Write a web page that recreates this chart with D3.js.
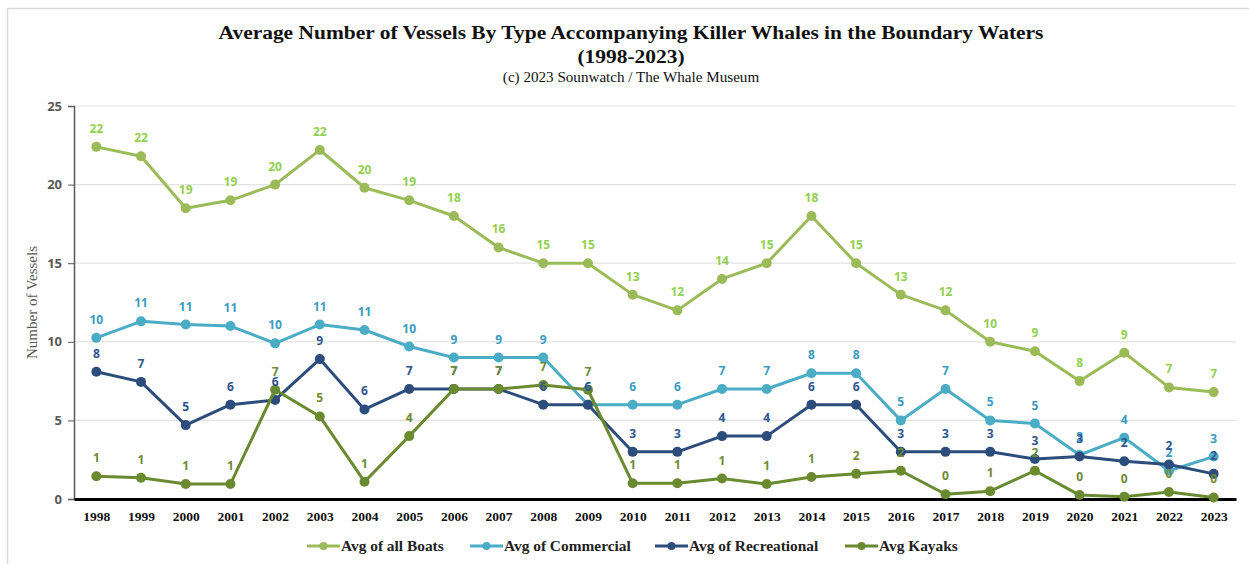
<!DOCTYPE html>
<html>
<head>
<meta charset="utf-8">
<script src="https://cdn.jsdelivr.net/npm/d3@7"></script>
<style>
  body { margin: 0; background: #fff; }
</style>
</head>
<body>
<div id="chart"></div>
<script>
const years = ['1998', '1999', '2000', '2001', '2002', '2003', '2004', '2005', '2006', '2007', '2008', '2009', '2010',
  '2011', '2012', '2013', '2014', '2015', '2016', '2017', '2018', '2019', '2020', '2021', '2022', '2023'];

const allBoats = [22.4, 21.8, 18.5, 19.0, 20.0, 22.2, 19.8, 19.0, 18.0, 16.0, 15.0, 15.0, 13.0,
  12.0, 14.0, 15.0, 18.0, 15.0, 13.0, 12.0, 10.0, 9.4, 7.5, 9.3, 7.1, 6.8];
const commercial = [10.25, 11.3, 11.1, 11.0, 9.9, 11.1, 10.75, 9.7, 9.0, 9.0, 9.0, 6.0, 6.0,
  6.0, 7.0, 7.0, 8.0, 8.0, 5.0, 7.0, 5.0, 4.8, 2.8, 3.9, 1.8, 2.7];
const recreational = [8.1, 7.45, 4.7, 6.0, 6.3, 8.9, 5.7, 7.0, 7.0, 7.0, 6.0, 6.0, 3.0,
  3.0, 4.0, 4.0, 6.0, 6.0, 3.0, 3.0, 3.0, 2.55, 2.7, 2.4, 2.2, 1.6];
const kayaks = [1.45, 1.35, 0.95, 0.95, 6.95, 5.25, 1.1, 4.0, 7.0, 7.0, 7.25, 6.95, 1.0,
  1.0, 1.3, 0.95, 1.4, 1.6, 1.8, 0.3, 0.5, 1.8, 0.25, 0.15, 0.45, 0.1];

const yTicks = [0, 5, 10, 15, 20, 25];

const series = [
  { name: 'Avg of all Boats', values: allBoats, line: '#9bbb59', label: '#92d050' },
  { name: 'Avg of Commercial', values: commercial, line: '#4bacc6', label: '#3a9cbf' },
  { name: 'Avg of Recreational', values: recreational, line: '#2c4d7c', label: '#2e5590' },
  { name: 'Avg Kayaks', values: kayaks, line: '#6a8a30', label: '#6d8b34' },
];

const W = 1249;
const H = 564;
const margin = { left: 74, right: 13, top: 106, bottom: 65 };
const serif = '"Liberation Serif", "Times New Roman", serif';

const svg = d3
  .select('#chart')
  .append('svg')
  .attr('width', W)
  .attr('height', H);

// outer chart border
svg.append('rect')
  .attr('x', 7.5).attr('y', 8.5)
  .attr('width', W + 20).attr('height', H + 20)
  .attr('fill', 'none')
  .attr('stroke', '#d9d9d9')
  .attr('stroke-width', 1.5);

const x = d3.scalePoint().domain(years).range([margin.left, W - margin.right]).padding(0.5);
const y = d3.scaleLinear().domain([0, 25]).range([H - margin.bottom, margin.top]);

// titles (the source is a bit stretched, so widen with a scale)
const titleG = svg.append('g').attr('transform', 'translate(631,0)');
titleG.append('text')
  .attr('y', 39)
  .attr('text-anchor', 'middle')
  .attr('transform', 'scale(1.1,1)')
  .style('font', `bold 19.5px ${serif}`)
  .attr('fill', '#111')
  .text('Average Number of Vessels By Type Accompanying Killer Whales in the Boundary Waters');
titleG.append('text')
  .attr('y', 63)
  .attr('text-anchor', 'middle')
  .attr('transform', 'scale(1.1,1)')
  .style('font', `bold 19.5px ${serif}`)
  .attr('fill', '#111')
  .text('(1998-2023)');
titleG.append('text')
  .attr('y', 82)
  .attr('text-anchor', 'middle')
  .attr('transform', 'scale(1.08,1)')
  .style('font', `14px ${serif}`)
  .attr('fill', '#111')
  .text('(c) 2023 Sounwatch / The Whale Museum');

// gridlines
svg.append('g')
  .selectAll('line')
  .data(yTicks.filter((t) => t > 0))
  .join('line')
  .attr('x1', margin.left).attr('x2', W - margin.right)
  .attr('y1', (d) => y(d)).attr('y2', (d) => y(d))
  .attr('stroke', '#e3e3e3')
  .attr('stroke-width', 1.2);

// y axis
const yAxis = svg.append('g')
  .attr('transform', `translate(${margin.left},0)`)
  .call(d3.axisLeft(y).tickValues(yTicks).tickSize(6).tickPadding(6));
yAxis.select('.domain').attr('stroke', '#595959').attr('stroke-width', 1.5);
yAxis.selectAll('.tick line').attr('stroke', '#595959');
yAxis.selectAll('.tick text')
  .style('font', 'bold 13px "Open Sans", "Liberation Sans", sans-serif')
  .attr('fill', '#595959');

svg.append('text')
  .attr('transform', `translate(37,${y(12.5)}) rotate(-90)`)
  .attr('text-anchor', 'middle')
  .style('font', `15px ${serif}`)
  .attr('fill', '#595959')
  .text('Number of Vessels');

// x axis
const xAxis = svg.append('g')
  .attr('transform', `translate(0,${y(0)})`)
  .call(d3.axisBottom(x).tickSize(0).tickPadding(12));
xAxis.select('.domain').attr('stroke', '#000').attr('stroke-width', 3);
xAxis.selectAll('.tick text')
  .style('font', `bold 13.5px ${serif}`)
  .attr('fill', '#111');

// lines + markers
const line = d3.line().x((d, i) => x(years[i])).y((d) => y(d));

series.forEach((s) => {
  const g = svg.append('g');
  g.append('path')
    .datum(s.values)
    .attr('d', line)
    .attr('fill', 'none')
    .attr('stroke', s.line)
    .attr('stroke-width', 3)
    .attr('stroke-linejoin', 'round');
  g.selectAll('circle')
    .data(s.values)
    .join('circle')
    .attr('cx', (d, i) => x(years[i]))
    .attr('cy', (d) => y(d))
    .attr('r', 5)
    .attr('fill', s.line);
});

// data labels
series.forEach((s) => {
  svg.append('g')
    .selectAll('text')
    .data(s.values)
    .join('text')
    .attr('x', (d, i) => x(years[i]))
    .attr('y', (d) => y(d) - 14)
    .attr('text-anchor', 'middle')
    .style('font', 'bold 12px "Open Sans", "Liberation Sans", sans-serif')
    .attr('fill', s.label)
    .text((d) => Math.round(d));
});

// legend
const legendX = [307, 470, 655, 845];
const legend = svg.append('g').attr('transform', 'translate(0,546)');
series.forEach((s, i) => {
  const item = legend.append('g').attr('transform', `translate(${legendX[i]},0)`);
  item.append('line')
    .attr('x1', 0).attr('x2', 33)
    .attr('stroke', s.line)
    .attr('stroke-width', 3);
  item.append('circle').attr('cx', 16.5).attr('r', 4).attr('fill', s.line);
  item.append('text')
    .attr('transform', 'translate(34,0) scale(1.1,1)')
    .attr('dy', '0.35em')
    .style('font', `bold 14px ${serif}`)
    .attr('fill', '#222')
    .text(s.name);
});
</script>
</body>
</html>
